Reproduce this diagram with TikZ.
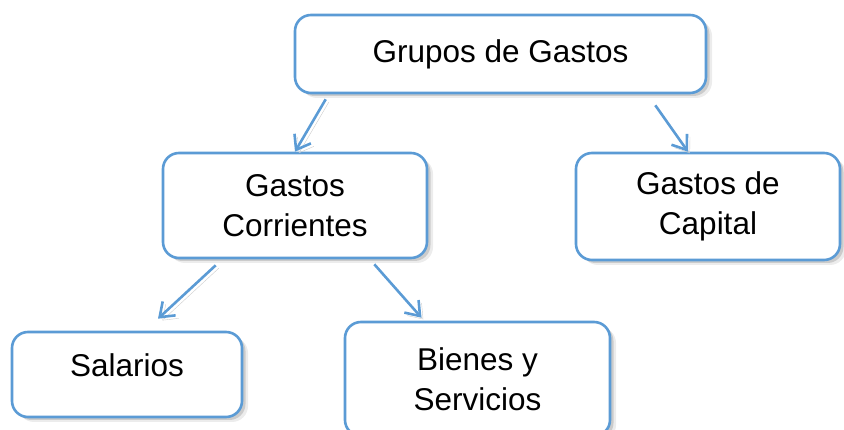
\documentclass[tikz,border=0pt]{standalone}
\usepackage{fontspec}
\setmainfont{Liberation Sans}
\usetikzlibrary{arrows.meta,shadows}
\definecolor{gblue}{RGB}{91,155,213}
\begin{document}
\begin{tikzpicture}[x=1pt, y=-1pt,
    caja/.style={draw=gblue, line width=2.6pt, fill=white, rounded corners=16pt,
        inner sep=0pt, align=center, font=\fontsize{31.5}{40}\selectfont,
        drop shadow={shadow xshift=6pt, shadow yshift=-5pt, opacity=.15},
        drop shadow={shadow xshift=3.5pt, shadow yshift=-3pt, opacity=.3}},
    flecha/.style={draw=gblue, line width=2.6pt,
        -{Straight Barb[length=13pt, width=19pt]},
        preaction={draw=black!20, transform canvas={shift={(3pt,-3pt)}}}}]
\useasboundingbox (0,0) rectangle (844,430);
\node[caja, minimum width=411pt, minimum height=78pt] (gru) at (500.5,54){Grupos de Gastos};
\node[caja, minimum width=264pt, minimum height=105pt] (cor) at (295,205.5){Gastos\\Corrientes};
\node[caja, minimum width=264pt, minimum height=107pt] (cap) at (708,206.5){Gastos de\\Capital};
\node[caja, minimum width=230pt, minimum height=85pt, text depth=19pt] (sal) at (127,374.5){Salarios};
\node[caja, minimum width=265pt, minimum height=114pt] (bie) at (477.5,379){Bienes y\\Servicios};
\draw[flecha] ([xshift=32pt, yshift=-5pt]gru.south west) -- (cor.north);
\draw[flecha] ([xshift=-52pt, yshift=-11pt]gru.south east) -- ([xshift=-20pt]cap.north);
\draw[flecha] ([xshift=54pt, yshift=-6pt]cor.south west) -- ([xshift=31pt, yshift=12pt]sal.north);
\draw[flecha] ([xshift=-54pt, yshift=-5pt]cor.south east) -- ([xshift=-56pt, yshift=3pt]bie.north);
\end{tikzpicture}
\end{document}
